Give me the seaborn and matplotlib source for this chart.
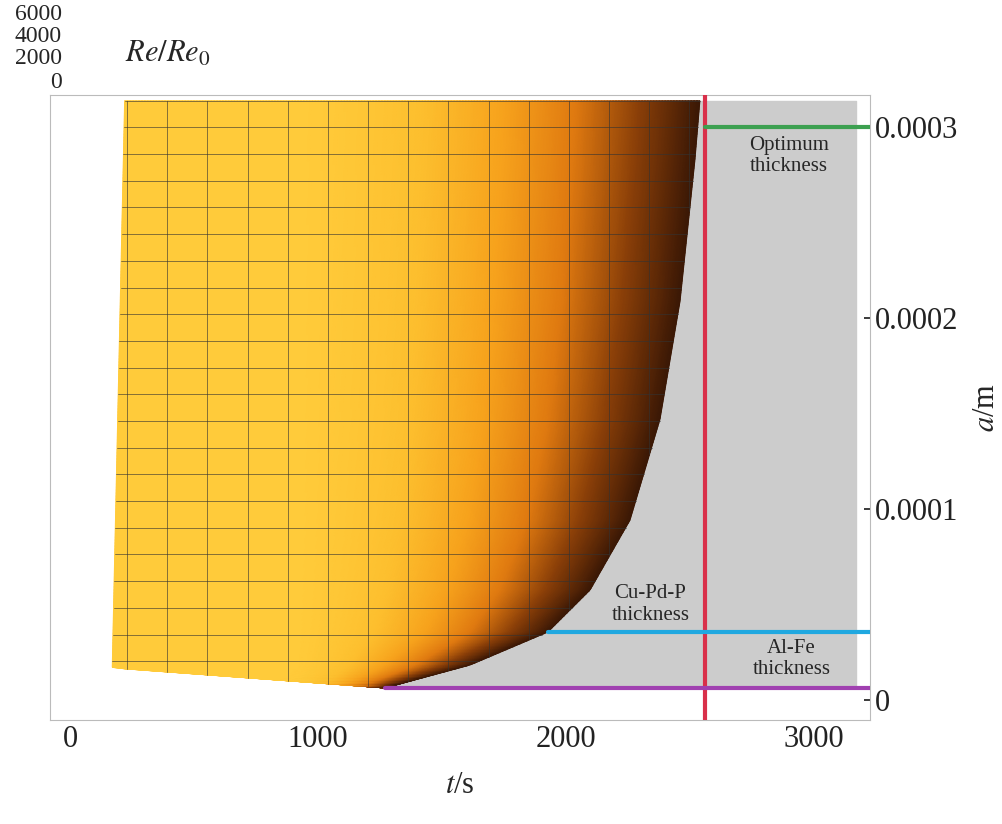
import numpy as np
import matplotlib.pyplot as plt
import seaborn as sns
from matplotlib.colors import LinearSegmentedColormap

sns.set_theme(style='white')
plt.rcParams.update({
    'font.family': ['Liberation Serif', 'DejaVu Serif'],
    'font.size': 22,
    'mathtext.fontset': 'stix',
})

# Boundary of the surface (t in s, a in m)
BOUND_A = np.array([0.0000063, 0.0000183, 0.0000356, 0.0000576, 0.0000942, 0.000147, 0.000209, 0.000283, 0.000314])
BOUND_T = np.array([1270, 1613, 1927, 2097, 2258, 2379, 2460, 2520, 2540])
A_TOP = 0.000314
A_BOT_LEFT = 0.0000168
T_LEFT_BOT, T_LEFT_TOP = 170, 220

SURF = LinearSegmentedColormap.from_list(
    'surf', ['#FFCB3A', '#FDBF2E', '#F7A21C', '#E07A10', '#8A3F08', '#3B1805'])


def left_edge(a):
    """Left/bottom edge of the surface as a function of a."""
    t_side = T_LEFT_BOT + (a - A_BOT_LEFT) / (A_TOP - A_BOT_LEFT) * (T_LEFT_TOP - T_LEFT_BOT)
    t_bot = T_LEFT_BOT + (A_BOT_LEFT - a) / (A_BOT_LEFT - BOUND_A[0]) * (BOUND_T[0] - T_LEFT_BOT)
    return np.where(a >= A_BOT_LEFT, t_side, t_bot)


def main():
    fig = plt.figure(figsize=(10.03, 8.24), dpi=100)
    ax = fig.add_axes([50 / 1003, 104 / 824, 820 / 1003, 625 / 824])

    # grey plane behind the surface
    ax.fill_between([1270, 3170], 0.0000063, A_TOP, color='#CCCCCC', zorder=1)

    # surface, parametrised by u (along t) and v (along a)
    u = np.linspace(0, 1, 200)
    v = np.linspace(0, 1, 400)
    U, V = np.meshgrid(u, v)
    A = BOUND_A[0] + V * (A_TOP - BOUND_A[0])
    TL = left_edge(A)
    TR = np.interp(A, BOUND_A, BOUND_T)
    T = TL + U * (TR - TL)
    shade = np.clip((T - 900) / (TR - 900), 0, 1) ** 1.4
    ax.pcolormesh(T, A, shade, cmap=SURF, shading='gouraud', zorder=2)

    # mesh lines: constant t
    a_col = A[:, 0]
    for tk in np.arange(230, 2560, 162):
        inside = (left_edge(a_col) <= tk) & (np.interp(a_col, BOUND_A, BOUND_T) >= tk)
        ax.plot(np.where(inside, tk, np.nan), a_col, color='#333333', lw=0.6, alpha=0.7, zorder=3)
    # mesh lines: constant a
    for vv in np.linspace(0, 1, 23):
        a = BOUND_A[0] + vv * (A_TOP - BOUND_A[0])
        ax.plot([left_edge(a), np.interp(a, BOUND_A, BOUND_T)], [a, a], color='#333333', lw=0.6, alpha=0.7, zorder=3)

    # thickness lines
    ax.axvline(2560, color='#D9304A', lw=3, zorder=4)
    ax.plot([2560, 3230], [0.0003, 0.0003], color='#3CA050', lw=3, zorder=4)
    ax.plot([1927, 3230], [0.0000356, 0.0000356], color='#20A8E0', lw=3, zorder=4)
    ax.plot([1270, 3230], [0.0000063, 0.0000063], color='#A040B0', lw=3, zorder=4)

    ax.text(2900, 0.000285, 'Optimum\nthickness', ha='center', va='center', fontsize=15, zorder=5)
    ax.text(2340, 0.000050, 'Cu-Pd-P\nthickness', ha='center', va='center', fontsize=15, zorder=5)
    ax.text(2910, 0.0000215, 'Al-Fe\nthickness', ha='center', va='center', fontsize=15, zorder=5)

    ax.set_xlim(-81, 3226)
    ax.set_ylim(-0.0000105, 0.000317)
    ax.set_xticks([0, 1000, 2000, 3000])
    ax.set_yticks([0, 0.0001, 0.0002, 0.0003])
    ax.set_yticklabels(['0', '0.0001', '0.0002', '0.0003'])
    ax.yaxis.tick_right()
    ax.yaxis.set_label_position('right')
    ax.tick_params(axis='both', labelsize=22, length=4, direction='in', colors='#222222')
    for s in ax.spines.values():
        s.set_color('#BBBBBB')
        s.set_linewidth(0.8)
    ax.set_xlabel('$t$/s', fontsize=22, labelpad=12)
    ax.set_ylabel('$a$/m', fontsize=22, labelpad=10)

    # vertical axis of the 3-D view, seen end-on
    for y, txt in zip([15, 37, 59, 83], ['6000', '4000', '2000', '0']):
        fig.text(62 / 1003, (824 - y) / 824, txt, fontsize=17, ha='right', va='center')
    fig.text(125 / 1003, (824 - 62) / 824, '$Re/Re_0$', fontsize=22)

    fig.savefig('out.png')


if __name__ == '__main__':
    main()
